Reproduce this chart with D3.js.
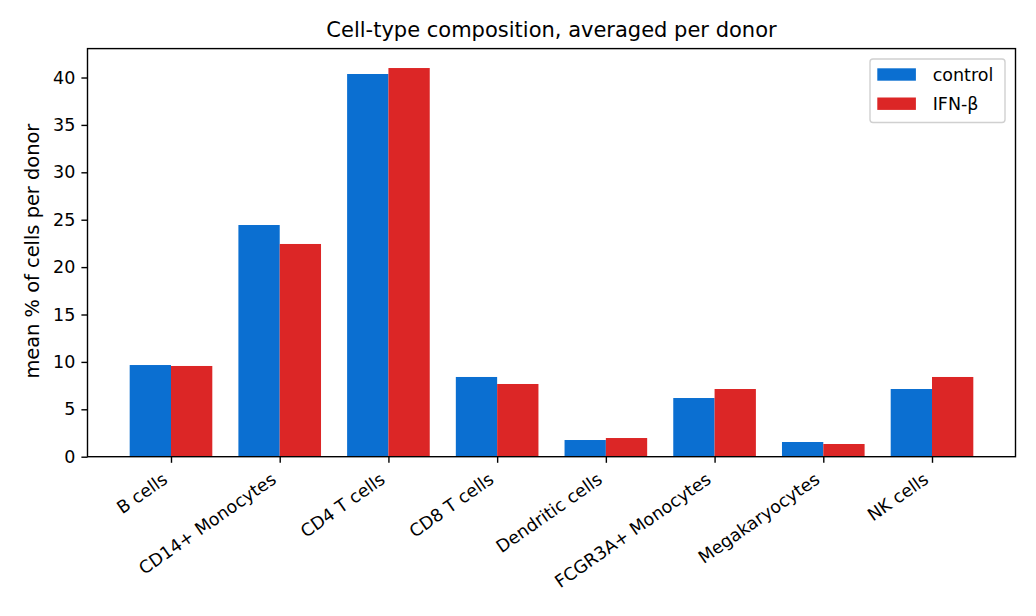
<!DOCTYPE html>
<html>
<head>
<meta charset="utf-8">
<script src="https://cdn.jsdelivr.net/npm/d3@7"></script>
<style>
  html, body { margin: 0; padding: 0; background: #fff; }
  svg { display: block; font-family: "DejaVu Sans", sans-serif; }
</style>
</head>
<body>
<svg id="chart" width="1036" height="616"></svg>
<script>
const categories = ["B cells", "CD14+ Monocytes", "CD4 T cells", "CD8 T cells", "Dendritic cells", "FCGR3A+ Monocytes", "Megakaryocytes", "NK cells"];
const seriesNames = ["control", "IFN-β"];
const controlValues = [9.67, 24.44, 40.37, 8.41, 1.76, 6.19, 1.55, 7.14];
const ifnValues = [9.57, 22.44, 41.0, 7.67, 1.97, 7.14, 1.34, 8.41];
const yTicks = [0, 5, 10, 15, 20, 25, 30, 35, 40];
const colors = ["#0b6fd1", "#dc2626"];

(function () {
const svg = d3.select("#chart");
const pLeft = 87.5, pRight = 1015.5, pTop = 48.6, pBottom = 456.7;
const fs = "17.5px";
const tickLen = 6.1, tickPad = 6.1, lw = 1.4;
const barW = 0.38;
const n = categories.length;
const xPad = (n - 1 + 2 * barW) * 0.05;
const x = d3.scaleLinear().domain([-barW - xPad, n - 1 + barW + xPad]).range([pLeft, pRight]);
const yMax = d3.max(controlValues.concat(ifnValues)) * 1.05;
const y = d3.scaleLinear().domain([0, yMax]).range([pBottom, pTop]);

const series = [controlValues, ifnValues];
series.forEach((vals, s) => {
  svg.append("g").selectAll("rect").data(vals).join("rect")
    .attr("x", (d, i) => x(i - barW + s * barW))
    .attr("width", (d, i) => x(i + s * barW) - x(i - barW + s * barW))
    .attr("y", d => y(d))
    .attr("height", d => y(0) - y(d))
    .attr("fill", colors[s]);
});

// Y axis
const yAxis = svg.append("g").attr("transform", `translate(${pLeft},0)`)
  .call(d3.axisLeft(y).tickValues(yTicks).tickSize(tickLen).tickPadding(tickPad).tickFormat(d3.format("d")));
yAxis.select(".domain").remove();
yAxis.selectAll(".tick line").attr("stroke", "#000").attr("stroke-width", lw);
yAxis.selectAll(".tick text").attr("font-size", fs).attr("fill", "#000").attr("font-family", "DejaVu Sans");

// X axis
const xAxis = svg.append("g").attr("transform", `translate(0,${pBottom})`)
  .call(d3.axisBottom(x).tickValues(d3.range(n)).tickSize(tickLen).tickFormat(""));
xAxis.select(".domain").remove();
xAxis.selectAll(".tick line").attr("stroke", "#000").attr("stroke-width", lw);

// X tick labels rotated, matplotlib-style bbox alignment
const angle = -35;
const rad = angle * Math.PI / 180;
categories.forEach((c, i) => {
  const g = svg.append("g").attr("transform", `translate(${x(i)},${pBottom + tickLen + tickPad})`);
  const inner = g.append("g");
  const t = inner.append("text").text(c)
    .attr("font-size", fs).attr("fill", "#000")
    .attr("text-anchor", "end");
  const bb = t.node().getBBox();
  const corners = [[bb.x, bb.y], [bb.x + bb.width, bb.y], [bb.x, bb.y + bb.height], [bb.x + bb.width, bb.y + bb.height]]
    .map(([px, py]) => [px * Math.cos(rad) - py * Math.sin(rad), px * Math.sin(rad) + py * Math.cos(rad)]);
  const maxX = d3.max(corners, p => p[0]);
  const minY = d3.min(corners, p => p[1]);
  inner.attr("transform", `translate(${-maxX},${-minY}) rotate(${angle})`);
});

// Spines
svg.append("rect").attr("x", pLeft).attr("y", pTop).attr("width", pRight - pLeft).attr("height", pBottom - pTop)
  .attr("fill", "none").attr("stroke", "#000").attr("stroke-width", lw);

// Y label
svg.append("text").attr("transform", `translate(39,${(pTop + pBottom) / 2 - 1.5}) rotate(-90)`)
  .attr("text-anchor", "middle").attr("font-size", "19.4px").attr("fill", "#000")
  .text("mean % of cells per donor");

// Title
svg.append("text").attr("x", (pLeft + pRight) / 2).attr("y", 37)
  .attr("text-anchor", "middle").attr("font-size", "21px").attr("fill", "#000")
  .text("Cell-type composition, averaged per donor");

// Legend
const lg = svg.append("g");
lg.append("rect").attr("x", 870).attr("y", 59).attr("width", 135).attr("height", 63.5)
  .attr("rx", 3).attr("fill", "#fff").attr("fill-opacity", 0.8).attr("stroke", "#d0d0d0").attr("stroke-width", lw);
seriesNames.forEach((name, s) => {
  const cy = 74.5 + s * 29.2;
  lg.append("rect").attr("x", 877.3).attr("y", cy - 6.2).attr("width", 38.6).attr("height", 12.4).attr("fill", colors[s]);
  lg.append("text").attr("x", 932.7).attr("y", cy).attr("dy", "0.36em")
    .attr("font-size", fs).attr("fill", "#000").text(name);
});
})();
</script>
</body>
</html>
